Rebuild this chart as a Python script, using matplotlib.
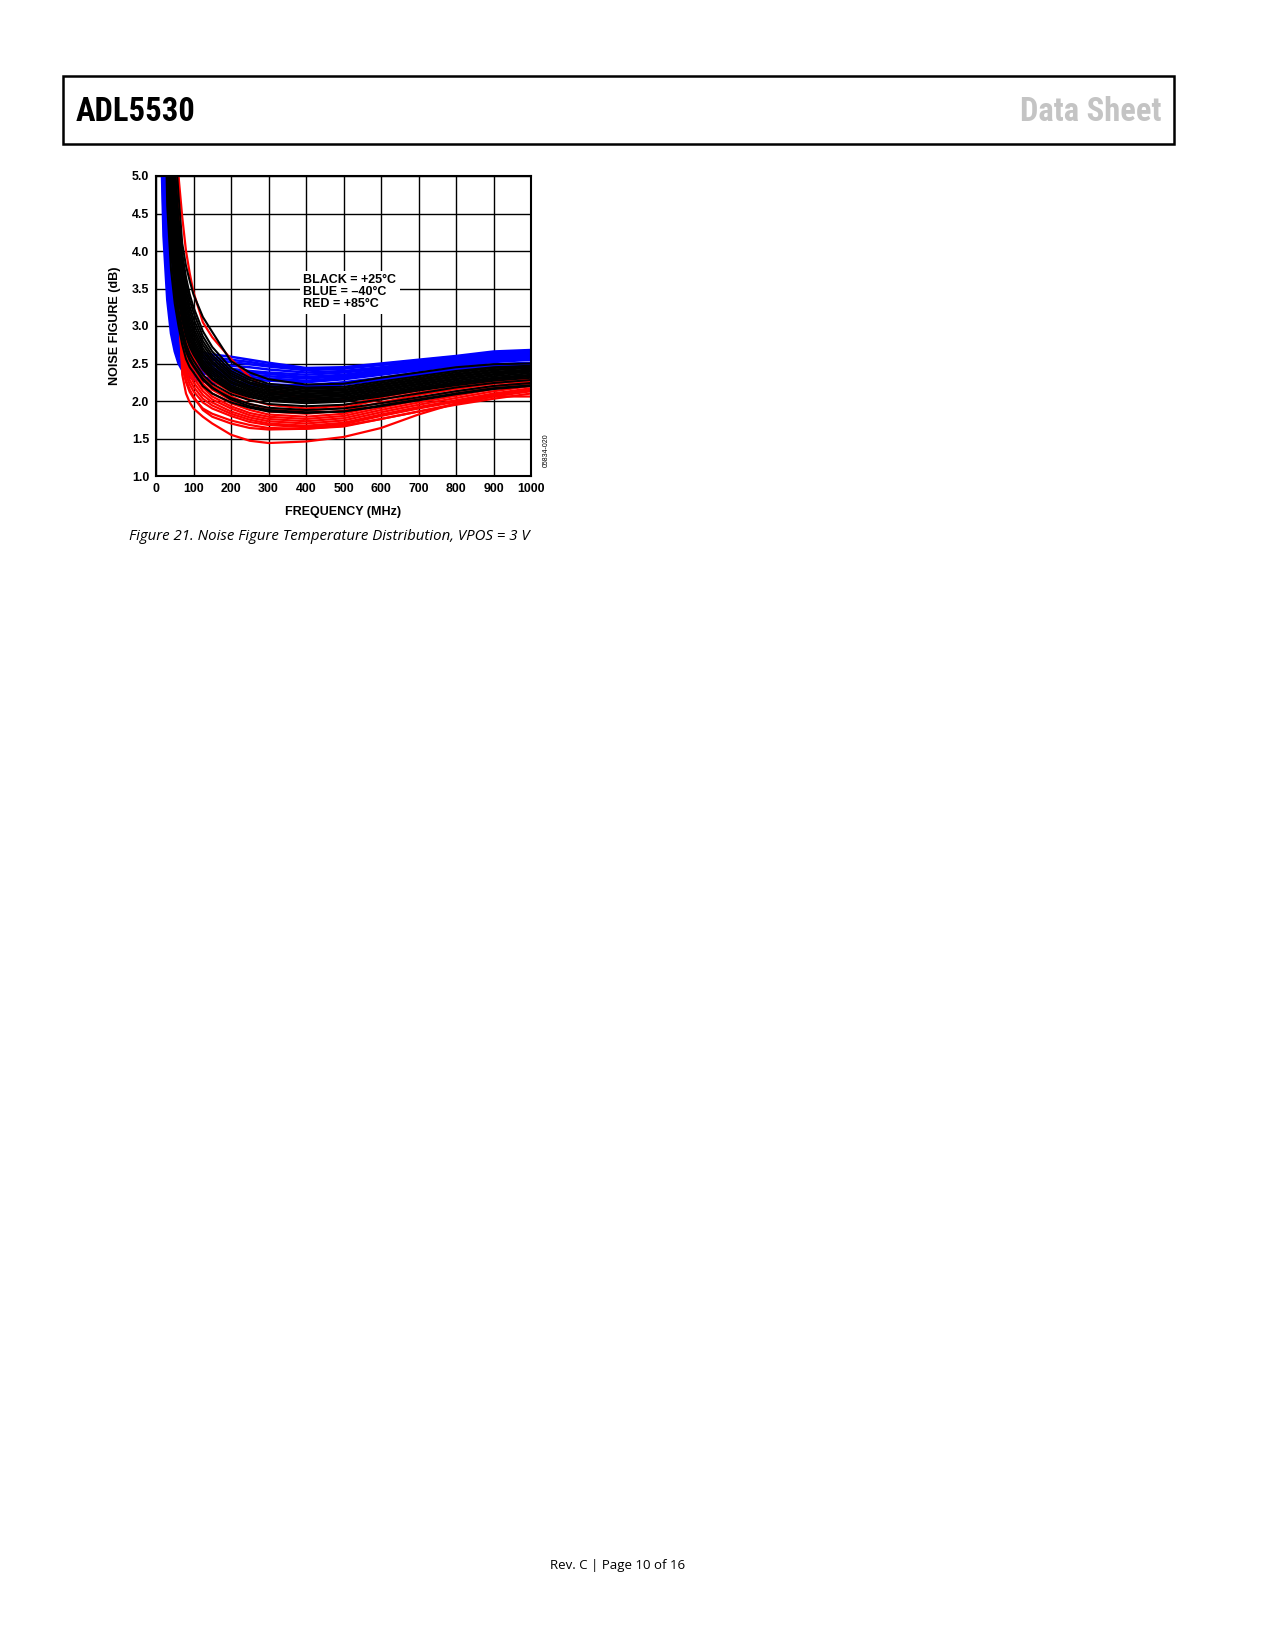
import matplotlib
matplotlib.use("Agg")
import matplotlib.pyplot as plt
from matplotlib.patches import Rectangle

plt.rcParams['font.family'] = ['Liberation Sans', 'DejaVu Sans']

# frequency points (MHz)
freq = [10, 20, 30, 40, 50, 60, 70, 80, 90, 100, 125, 150, 200, 250, 300,
        400, 500, 600, 700, 800, 900, 1000]

# -40 C curves (blue)
blue_curves = [
    [8.0, 5.3, 4.3, 3.7, 3.3, 3.0, 2.85, 2.76, 2.71, 2.68, 2.64, 2.62, 2.59, 2.55, 2.51, 2.44, 2.45, 2.5, 2.55, 2.6, 2.66, 2.68],
    [7.7, 5.2, 4.2, 3.62, 3.24, 2.96, 2.81, 2.72, 2.67, 2.64, 2.6, 2.58, 2.55, 2.52, 2.48, 2.43, 2.44, 2.49, 2.54, 2.59, 2.64, 2.67],
    [7.6, 5.1, 4.1, 3.55, 3.18, 2.92, 2.77, 2.68, 2.63, 2.6, 2.57, 2.55, 2.52, 2.49, 2.46, 2.41, 2.43, 2.48, 2.53, 2.58, 2.63, 2.66],
    [7.5, 5.05, 4.05, 3.5, 3.14, 2.88, 2.73, 2.65, 2.6, 2.57, 2.53, 2.51, 2.47, 2.45, 2.42, 2.38, 2.4, 2.45, 2.51, 2.57, 2.62, 2.65],
    [7.4, 5.0, 4.0, 3.45, 3.1, 2.85, 2.7, 2.62, 2.57, 2.54, 2.5, 2.47, 2.43, 2.4, 2.38, 2.35, 2.38, 2.43, 2.49, 2.55, 2.6, 2.63],
    [7.3, 4.9, 3.95, 3.4, 3.05, 2.8, 2.66, 2.58, 2.53, 2.5, 2.46, 2.43, 2.4, 2.38, 2.36, 2.32, 2.35, 2.41, 2.47, 2.53, 2.58, 2.61],
    [7.2, 4.85, 3.9, 3.35, 3.0, 2.77, 2.63, 2.55, 2.5, 2.47, 2.43, 2.4, 2.37, 2.35, 2.33, 2.3, 2.33, 2.39, 2.45, 2.51, 2.56, 2.59],
    [7.1, 4.8, 3.85, 3.3, 2.96, 2.74, 2.6, 2.52, 2.47, 2.44, 2.4, 2.37, 2.34, 2.32, 2.3, 2.27, 2.31, 2.37, 2.43, 2.49, 2.54, 2.57],
    [7.0, 4.75, 3.8, 3.25, 2.92, 2.7, 2.57, 2.49, 2.44, 2.41, 2.37, 2.34, 2.31, 2.29, 2.27, 2.25, 2.29, 2.35, 2.41, 2.47, 2.52, 2.55],
    [6.9, 4.65, 3.7, 3.15, 2.84, 2.64, 2.52, 2.44, 2.39, 2.36, 2.32, 2.29, 2.26, 2.24, 2.22, 2.21, 2.25, 2.31, 2.38, 2.44, 2.49, 2.51],
    [6.6, 4.45, 3.55, 3.02, 2.75, 2.57, 2.46, 2.4, 2.36, 2.33, 2.29, 2.27, 2.24, 2.22, 2.21, 2.2, 2.23, 2.3, 2.36, 2.42, 2.47, 2.49],
    [6.2, 4.2, 3.35, 2.9, 2.66, 2.5, 2.41, 2.36, 2.32, 2.29, 2.26, 2.24, 2.22, 2.2, 2.19, 2.18, 2.22, 2.28, 2.35, 2.41, 2.46, 2.47],
]

# +85 C curves (red)
red_curves = [
    [30, 20, 12, 8.0, 6.0, 5.0, 4.45, 4.0, 3.7, 3.45, 3.05, 2.85, 2.56, 2.32, 2.15, 2.02, 2.02, 2.08, 2.15, 2.22, 2.28, 2.32],
    [30, 20, 14, 10, 7.0, 4.8, 3.5, 3.08, 2.84, 2.68, 2.42, 2.27, 2.12, 2.02, 1.95, 1.9, 1.94, 2.05, 2.14, 2.22, 2.27, 2.32],
    [30, 20, 14, 9.5, 6.6, 4.5, 3.3, 2.93, 2.72, 2.58, 2.34, 2.2, 2.06, 1.96, 1.9, 1.87, 1.91, 2.02, 2.11, 2.19, 2.25, 2.3],
    [30, 20, 13, 9.0, 6.4, 4.3, 3.15, 2.83, 2.63, 2.5, 2.28, 2.15, 2.01, 1.92, 1.86, 1.83, 1.87, 1.98, 2.08, 2.16, 2.23, 2.28],
    [30, 20, 13, 9.0, 6.2, 4.15, 3.05, 2.75, 2.56, 2.44, 2.23, 2.1, 1.97, 1.88, 1.82, 1.79, 1.83, 1.94, 2.04, 2.13, 2.2, 2.26],
    [30, 20, 13, 8.5, 6.0, 4.0, 2.95, 2.66, 2.49, 2.37, 2.18, 2.06, 1.93, 1.84, 1.79, 1.76, 1.8, 1.91, 2.01, 2.1, 2.18, 2.24],
    [30, 20, 12, 8.5, 5.8, 3.85, 2.85, 2.58, 2.42, 2.31, 2.13, 2.02, 1.9, 1.81, 1.76, 1.73, 1.77, 1.88, 1.98, 2.07, 2.16, 2.22],
    [30, 20, 12, 8.0, 5.6, 3.7, 2.75, 2.5, 2.35, 2.25, 2.08, 1.98, 1.86, 1.78, 1.73, 1.7, 1.74, 1.85, 1.95, 2.04, 2.13, 2.2],
    [30, 20, 12, 8.0, 5.4, 3.55, 2.65, 2.42, 2.28, 2.19, 2.03, 1.94, 1.83, 1.75, 1.7, 1.67, 1.71, 1.82, 1.92, 2.01, 2.1, 2.17],
    [30, 20, 12, 8.0, 5.2, 3.4, 2.55, 2.35, 2.22, 2.13, 1.98, 1.9, 1.8, 1.72, 1.68, 1.65, 1.69, 1.8, 1.9, 1.99, 2.08, 2.15],
    [30, 20, 12, 8.0, 5.0, 3.25, 2.45, 2.25, 2.12, 2.04, 1.9, 1.83, 1.74, 1.68, 1.64, 1.63, 1.66, 1.76, 1.86, 1.95, 2.03, 2.1],
    [30, 20, 12, 8.0, 5.1, 3.3, 2.5, 2.28, 2.15, 2.06, 1.88, 1.79, 1.7, 1.64, 1.62, 1.63, 1.67, 1.76, 1.86, 1.96, 2.06, 2.13],
    [30, 20, 12, 8.0, 5.5, 3.6, 2.35, 2.1, 1.98, 1.9, 1.79, 1.7, 1.55, 1.47, 1.44, 1.46, 1.52, 1.64, 1.82, 1.97, 2.06, 2.06],
]

# +25 C curves (black)
black_curves = [
    [12, 7.0, 4.6, 3.75, 3.3, 3.0, 2.75, 2.56, 2.45, 2.38, 2.2, 2.1, 1.98, 1.91, 1.86, 1.84, 1.86, 1.94, 2.02, 2.1, 2.17, 2.21],
    [13, 7.5, 5.0, 4.0, 3.45, 3.1, 2.85, 2.66, 2.54, 2.46, 2.28, 2.17, 2.04, 1.96, 1.91, 1.88, 1.9, 1.97, 2.05, 2.13, 2.2, 2.24],
    [13.5, 7.8, 5.1, 4.1, 3.5, 3.15, 2.9, 2.7, 2.57, 2.48, 2.3, 2.18, 2.02, 1.93, 1.88, 1.85, 1.86, 1.93, 2.01, 2.09, 2.16, 2.2],
    [14, 8.0, 5.3, 4.2, 3.6, 3.22, 2.96, 2.76, 2.63, 2.54, 2.35, 2.23, 2.09, 2.01, 1.96, 1.93, 1.95, 2.02, 2.1, 2.18, 2.24, 2.28],
    [14, 8.5, 5.6, 4.4, 3.75, 3.35, 3.07, 2.86, 2.72, 2.62, 2.42, 2.29, 2.13, 2.05, 2.0, 1.97, 1.99, 2.06, 2.14, 2.21, 2.27, 2.31],
    [14.5, 8.8, 5.8, 4.5, 3.82, 3.4, 3.12, 2.9, 2.76, 2.66, 2.45, 2.31, 2.15, 2.07, 2.02, 1.99, 2.01, 2.08, 2.15, 2.23, 2.29, 2.33],
    [15, 9.0, 5.9, 4.6, 3.9, 3.47, 3.18, 2.96, 2.81, 2.7, 2.48, 2.34, 2.17, 2.09, 2.04, 2.01, 2.03, 2.1, 2.17, 2.24, 2.3, 2.34],
    [14.8, 9.2, 6.0, 4.7, 3.98, 3.53, 3.23, 3.0, 2.85, 2.74, 2.51, 2.37, 2.19, 2.1, 2.05, 2.02, 2.04, 2.11, 2.18, 2.25, 2.31, 2.35],
    [15, 9.5, 6.2, 4.8, 4.05, 3.6, 3.29, 3.06, 2.9, 2.78, 2.54, 2.4, 2.21, 2.12, 2.07, 2.04, 2.06, 2.13, 2.2, 2.27, 2.33, 2.37],
    [15.5, 9.8, 6.4, 4.9, 4.15, 3.68, 3.35, 3.12, 2.95, 2.82, 2.58, 2.43, 2.24, 2.14, 2.09, 2.06, 2.08, 2.15, 2.22, 2.29, 2.35, 2.39],
    [16, 10, 6.6, 5.05, 4.25, 3.75, 3.42, 3.18, 3.0, 2.87, 2.62, 2.46, 2.26, 2.16, 2.1, 2.07, 2.09, 2.16, 2.23, 2.3, 2.36, 2.4],
    [16.5, 10.5, 6.9, 5.2, 4.38, 3.85, 3.5, 3.25, 3.06, 2.92, 2.66, 2.5, 2.29, 2.18, 2.12, 2.09, 2.11, 2.18, 2.25, 2.32, 2.38, 2.41],
    [17, 11, 7.2, 5.4, 4.5, 3.95, 3.58, 3.32, 3.12, 2.97, 2.7, 2.53, 2.31, 2.2, 2.14, 2.1, 2.12, 2.19, 2.26, 2.33, 2.39, 2.42],
    [17.5, 11.5, 7.5, 5.6, 4.65, 4.07, 3.68, 3.4, 3.19, 3.03, 2.75, 2.57, 2.34, 2.23, 2.16, 2.12, 2.14, 2.21, 2.28, 2.35, 2.41, 2.44],
    [18, 12, 7.8, 5.8, 4.8, 4.2, 3.78, 3.48, 3.26, 3.1, 2.8, 2.61, 2.37, 2.25, 2.18, 2.14, 2.15, 2.22, 2.29, 2.36, 2.42, 2.45],
    [18.5, 12.5, 8.1, 6.0, 4.98, 4.32, 3.88, 3.57, 3.34, 3.18, 2.86, 2.66, 2.4, 2.28, 2.2, 2.16, 2.17, 2.24, 2.31, 2.38, 2.44, 2.46],
    [19, 13, 8.4, 6.2, 5.15, 4.45, 3.97, 3.65, 3.42, 3.25, 2.93, 2.72, 2.44, 2.31, 2.23, 2.18, 2.19, 2.26, 2.33, 2.4, 2.45, 2.47],
    [20, 14, 9.0, 6.6, 5.5, 4.75, 4.1, 3.8, 3.6, 3.42, 3.12, 2.92, 2.53, 2.38, 2.29, 2.22, 2.23, 2.31, 2.38, 2.45, 2.49, 2.5],
]

xticks = [0, 100, 200, 300, 400, 500, 600, 700, 800, 900, 1000]
yticks = [1.0, 1.5, 2.0, 2.5, 3.0, 3.5, 4.0, 4.5, 5.0]

fig = plt.figure(figsize=(12.75, 16.5), dpi=100)

# page header
fig.patches.append(Rectangle((63/1275, 1-144/1650), 1111/1275, 68/1650,
                             transform=fig.transFigure, fill=False,
                             edgecolor='black', linewidth=1.8))
head_font = ['Roboto Condensed', 'Liberation Sans Narrow', 'Noto Sans', 'DejaVu Sans']
fig.text(76/1275, 1-112/1650, 'ADL5530', fontsize=23.5, fontweight='bold',
         fontstretch='condensed', family=head_font, va='center', ha='left')
fig.text(1162/1275, 1-112/1650, 'Data Sheet', fontsize=23.5, fontweight='bold',
         fontstretch='condensed', family=head_font, color='#c4c4c4',
         va='center', ha='right')

ax = fig.add_axes([156/1275, 1-476/1650, 375/1275, 300/1650])

for c in blue_curves:
    ax.plot(freq, c, color='#0000ff', lw=1.8)
for c in red_curves:
    ax.plot(freq, c, color='#ff0000', lw=1.6)
for c in black_curves:
    ax.plot(freq, c, color='black', lw=1.5)

ax.set_xlim(0, 1000)
ax.set_ylim(1.0, 5.0)
ax.set_xticks(xticks)
ax.set_yticks(yticks)
ax.set_xticklabels([str(t) for t in xticks], fontsize=8.9, fontweight='bold')
ax.set_yticklabels(['%.1f' % t for t in yticks], fontsize=8.9, fontweight='bold')
ax.tick_params(length=0, pad=5)
ax.grid(True, color='black', lw=1.0)
ax.set_axisbelow(True)
for s in ax.spines.values():
    s.set_linewidth(1.5)

ax.set_xlabel('FREQUENCY (MHz)', fontsize=9, fontweight='bold', labelpad=8)
ax.set_ylabel('NOISE FIGURE (dB)', fontsize=9, fontweight='bold', labelpad=7.5)

ax.text(392, 3.45, 'BLACK = +25°C\nBLUE = –40°C\nRED = +85°C',
        fontsize=9, fontweight='bold', ha='left', va='center', linespacing=1.0,
        bbox=dict(facecolor='white', edgecolor='none', pad=2.5), zorder=5)

fig.text(546/1275, 1-450/1650, '05834-020', fontsize=5, rotation=90,
         ha='center', va='center')

fig.text(129/1275, 1-536/1650, 'Figure 21. Noise Figure Temperature Distribution, VPOS = 3 V',
         fontsize=10.8, style='italic', family=['Open Sans', 'DejaVu Sans'],
         ha='left', va='center')

fig.text(618/1275, 1-1566/1650, 'Rev. C | Page 10 of 16', fontsize=9.5,
         family=['Open Sans', 'DejaVu Sans'], ha='center', va='center')

fig.savefig('out.png', dpi=100)
